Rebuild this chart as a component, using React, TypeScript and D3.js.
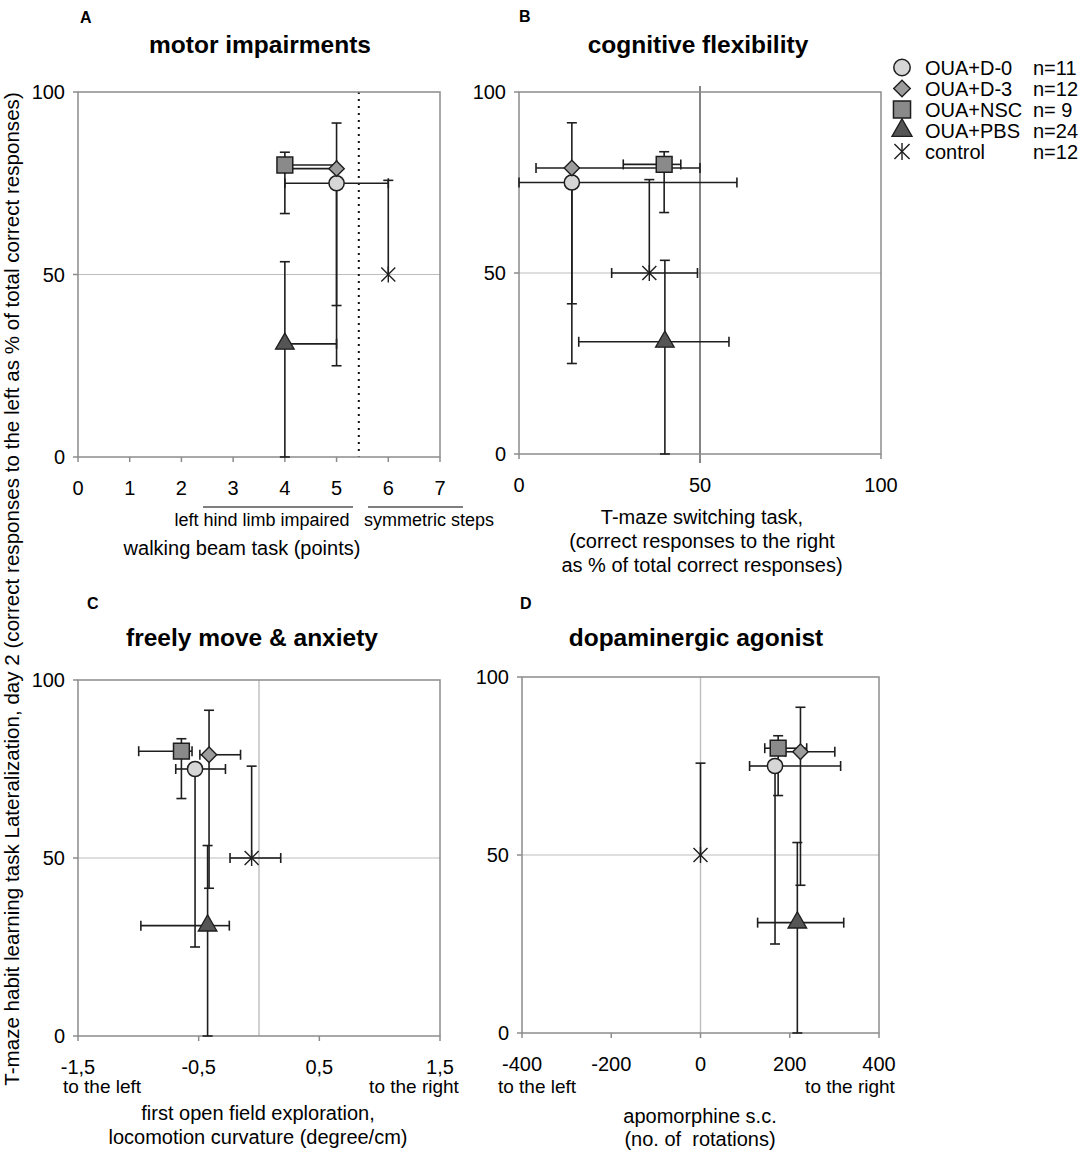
import * as React from 'react';
import * as d3 from 'd3';

// groups shown in every panel
const groups = ['OUA+D-0', 'OUA+D-3', 'OUA+NSC', 'OUA+PBS', 'control'];
const groupN = ['n=11', 'n=12', 'n= 9', 'n=24', 'n=12'];
const groupShape = ['circle', 'diamond', 'square', 'triangle', 'star'];
const groupFill = ['#d6d6d6', '#9c9c9c', '#8a8a8a', '#555555', 'none'];

// y: T-maze habit learning lateralization (% left), same in all panels
const lateralY = [75, 79, 80, 31, 50];
const lateralYLow = [25, 41.5, 66.7, 0, 50];
const lateralYHigh = [75, 91.5, 83.5, 53.5, 75.8];

// A: walking beam task (points)
const walkX = [5, 5, 4, 4, 6];
const walkXLow = [4, 4, 4, 4, 6];
const walkXHigh = [6, 5, 5, 5, 6];
const walkTicks = [0, 1, 2, 3, 4, 5, 6, 7];
const walkTickLabels = ['0', '1', '2', '3', '4', '5', '6', '7'];

// B: T-maze switching task (% right)
const switchX = [14.6, 14.6, 40.1, 40.3, 36.0];
const switchXLow = [0, 4.7, 28.8, 16.5, 25.6];
const switchXHigh = [60.2, 50, 44.7, 58.0, 49.3];
const switchTicks = [0, 50, 100];
const switchTickLabels = ['0', '50', '100'];

// C: locomotion curvature (degree/cm)
const curveX = [-0.53, -0.414, -0.643, -0.426, -0.061];
const curveXLow = [-0.69, -0.49, -0.997, -0.979, -0.24];
const curveXHigh = [-0.278, -0.153, -0.555, -0.246, 0.18];
const curveTicks = [-1.5, -0.5, 0.5, 1.5];
const curveTickLabels = ['-1,5', '-0,5', '0,5', '1,5'];

// D: apomorphine rotations
const rotX = [167, 224, 174, 217, 0];
const rotXLow = [110, 190, 144, 128, 0];
const rotXHigh = [314, 301, 238, 321, 0];
const rotTicks = [-400, -200, 0, 200, 400];
const rotTickLabels = ['-400', '-200', '0', '200', '400'];

const yTicks = [0, 50, 100];

const FONT = 'Liberation Sans, Arial, Helvetica, sans-serif';
const INK = '#1e1e1e';
const FRAME = '#8c8c8c';
const GRID = '#bdbdbd';

function Marker({ shape, fill, cx, cy, big }) {
    const k = big ? 1.08 : 1;
    const tr = 'translate(' + cx + ',' + cy + ')';
    if (shape === 'circle') {
        return <circle cx={cx} cy={cy} r={7.6 * k} fill={fill} stroke={INK} strokeWidth={1.5} />;
    }
    if (shape === 'diamond') {
        const p = d3.symbol().type(d3.symbolSquare).size(118 * k * k)();
        return <path d={p} transform={tr + ' rotate(45)'} fill={fill} stroke={INK} strokeWidth={1.4} />;
    }
    if (shape === 'square') {
        const p = d3.symbol().type(d3.symbolSquare).size(250 * k * k)();
        return <path d={p} transform={tr} fill={fill} stroke={INK} strokeWidth={1.5} />;
    }
    if (shape === 'triangle') {
        const p = d3.symbol().type(d3.symbolTriangle).size(150 * k * k)();
        return <path d={p} transform={tr} fill={fill} stroke={INK} strokeWidth={1.3} />;
    }
    const s = 7 * k;
    return (
        <g transform={tr} stroke={INK} strokeWidth={1.4}>
            <line x1={-s} y1={-s} x2={s} y2={s} />
            <line x1={-s} y1={s} x2={s} y2={-s} />
            <line x1={0} y1={-s - 1} x2={0} y2={s + 1} />
        </g>
    );
}

function Panel({ cfg }) {
    const x = d3.scaleLinear().domain(cfg.xDomain).range([cfg.left, cfg.right]);
    const y = d3.scaleLinear().domain([0, 100]).range([cfg.bottom, cfg.top]);
    const cap = 5;
    const bars = [];
    groups.forEach((g, i) => {
        const px = x(cfg.xs[i]);
        const py = y(lateralY[i]);
        const ends = [];
        if (lateralYLow[i] < lateralY[i]) ends.push(['v', y(lateralYLow[i])]);
        if (lateralYHigh[i] > lateralY[i]) ends.push(['v', y(lateralYHigh[i])]);
        if (cfg.xLow[i] < cfg.xs[i]) ends.push(['h', x(cfg.xLow[i])]);
        if (cfg.xHigh[i] > cfg.xs[i]) ends.push(['h', x(cfg.xHigh[i])]);
        ends.forEach((e, j) => {
            if (e[0] === 'v') {
                bars.push(<line key={g + 'v' + j} x1={px} y1={py} x2={px} y2={e[1]} />);
                bars.push(<line key={g + 'vc' + j} x1={px - cap} y1={e[1]} x2={px + cap} y2={e[1]} />);
            } else {
                bars.push(<line key={g + 'h' + j} x1={px} y1={py} x2={e[1]} y2={py} />);
                bars.push(<line key={g + 'hc' + j} x1={e[1]} y1={py - cap} x2={e[1]} y2={py + cap} />);
            }
        });
    });
    const v = cfg.vLine;
    return (
        <g fontFamily={FONT}>
            <text x={cfg.letterX} y={cfg.letterY} fontSize={16} fontWeight="bold">{cfg.letter}</text>
            <text x={cfg.titleX} y={cfg.titleY} fontSize={24.5} fontWeight="bold" textAnchor="middle">{cfg.title}</text>
            <line x1={cfg.left} x2={cfg.right} y1={y(50)} y2={y(50)} stroke={GRID} strokeWidth={1.2} />
            <line x1={x(v.value)} x2={x(v.value)} y1={cfg.top - v.extTop} y2={cfg.bottom + v.extBottom}
                  stroke={v.color} strokeWidth={v.width} strokeDasharray={v.dash} />
            <rect x={cfg.left} y={cfg.top} width={cfg.right - cfg.left} height={cfg.bottom - cfg.top}
                  fill="none" stroke={FRAME} strokeWidth={1.5} />
            {cfg.xTicks.map((t, i) => (
                <g key={'xt' + i}>
                    <line x1={x(t)} x2={x(t)} y1={cfg.bottom} y2={cfg.bottom + 5} stroke={FRAME} strokeWidth={1.5} />
                    <text x={x(t)} y={cfg.bottom + 38} fontSize={20} textAnchor="middle">{cfg.xTickLabels[i]}</text>
                </g>
            ))}
            {yTicks.map((t) => (
                <g key={'yt' + t}>
                    <line x1={cfg.left - 5} x2={cfg.left} y1={y(t)} y2={y(t)} stroke={FRAME} strokeWidth={1.5} />
                    <text x={cfg.left - 13} y={y(t) + 7} fontSize={20} textAnchor="end">{t}</text>
                </g>
            ))}
            <g stroke={INK} strokeWidth={1.6}>{bars}</g>
            {[4, 3, 0, 1, 2].map((i) => (
                <Marker key={'m' + i} shape={groupShape[i]} fill={groupFill[i]} cx={x(cfg.xs[i])} cy={y(lateralY[i])} />
            ))}
            {cfg.notes.map((n, i) => (
                <text key={'n' + i} x={n.x} y={n.y} fontSize={n.size} textAnchor="middle"
                      style={{ whiteSpace: 'pre' }}>{n.text}</text>
            ))}
            {(cfg.rules || []).map((r, i) => (
                <line key={'r' + i} x1={r[0]} x2={r[1]} y1={r[2]} y2={r[2]} stroke="#555" strokeWidth={1.3} />
            ))}
        </g>
    );
}

const panels = [
    {
        letter: 'A', letterX: 80, letterY: 23, title: 'motor impairments', titleX: 260, titleY: 53,
        left: 78, right: 440, top: 92, bottom: 457,
        xDomain: [0, 7], xTicks: walkTicks, xTickLabels: walkTickLabels,
        xs: walkX, xLow: walkXLow, xHigh: walkXHigh,
        vLine: { value: 5.43, color: '#111', width: 2, dash: '2,5', extTop: 0, extBottom: 0 },
        notes: [
            { text: 'left hind limb impaired', x: 262, y: 526, size: 18 },
            { text: 'symmetric steps', x: 429, y: 526, size: 18 },
            { text: 'walking beam task (points)', x: 242, y: 555, size: 20 },
        ],
        rules: [[203, 353, 507], [368, 463, 507]],
    },
    {
        letter: 'B', letterX: 519, letterY: 22, title: 'cognitive flexibility', titleX: 698, titleY: 53,
        left: 519, right: 881, top: 92, bottom: 454,
        xDomain: [0, 100], xTicks: switchTicks, xTickLabels: switchTickLabels,
        xs: switchX, xLow: switchXLow, xHigh: switchXHigh,
        vLine: { value: 50, color: '#666', width: 1.6, dash: null, extTop: 6, extBottom: 9 },
        notes: [
            { text: 'T-maze switching task,', x: 702, y: 524, size: 20 },
            { text: '(correct responses to the right', x: 702, y: 548, size: 20 },
            { text: 'as % of total correct responses)', x: 702, y: 572, size: 20 },
        ],
    },
    {
        letter: 'C', letterX: 87, letterY: 609, title: 'freely move & anxiety', titleX: 252, titleY: 646,
        left: 78, right: 440, top: 680, bottom: 1036,
        xDomain: [-1.5, 1.5], xTicks: curveTicks, xTickLabels: curveTickLabels,
        xs: curveX, xLow: curveXLow, xHigh: curveXHigh,
        vLine: { value: 0, color: GRID, width: 1.4, dash: null, extTop: 0, extBottom: 0 },
        notes: [
            { text: 'to the left', x: 102, y: 1093, size: 19 },
            { text: 'to the right', x: 414, y: 1093, size: 19 },
            { text: 'first open field exploration,', x: 258, y: 1120, size: 20 },
            { text: 'locomotion curvature (degree/cm)', x: 258, y: 1144, size: 20 },
        ],
    },
    {
        letter: 'D', letterX: 520, letterY: 609, title: 'dopaminergic agonist', titleX: 696, titleY: 646,
        left: 522, right: 879, top: 677, bottom: 1033,
        xDomain: [-400, 400], xTicks: rotTicks, xTickLabels: rotTickLabels,
        xs: rotX, xLow: rotXLow, xHigh: rotXHigh,
        vLine: { value: 0, color: GRID, width: 1.4, dash: null, extTop: 0, extBottom: 0 },
        notes: [
            { text: 'to the left', x: 537, y: 1093, size: 19 },
            { text: 'to the right', x: 850, y: 1093, size: 19 },
            { text: 'apomorphine s.c.', x: 700, y: 1123, size: 20 },
            { text: '(no. of  rotations)', x: 700, y: 1146, size: 20 },
        ],
    },
];

export default function App() {
    return (
        <svg width={1084} height={1153} style={{ position: 'absolute', left: 0, top: 0, background: '#fff' }}>
            <rect width={1084} height={1153} fill="#fff" />
            {panels.map((p) => <Panel key={p.letter} cfg={p} />)}
            <text transform="translate(19,589) rotate(-90)" fontFamily={FONT} fontSize={20.6} textAnchor="middle">
                T-maze habit learning task Lateralization, day 2 (correct responses to the left as % of total correct responses)
            </text>
            <g fontFamily={FONT} fontSize={20}>
                {groups.map((g, i) => (
                    <g key={g}>
                        <Marker shape={groupShape[i]} fill={groupFill[i]} cx={902} cy={67.5 + 21 * i} big />
                        <text x={925} y={74.5 + 21 * i}>{g}</text>
                        <text x={1033} y={74.5 + 21 * i}>{groupN[i]}</text>
                    </g>
                ))}
            </g>
        </svg>
    );
}
